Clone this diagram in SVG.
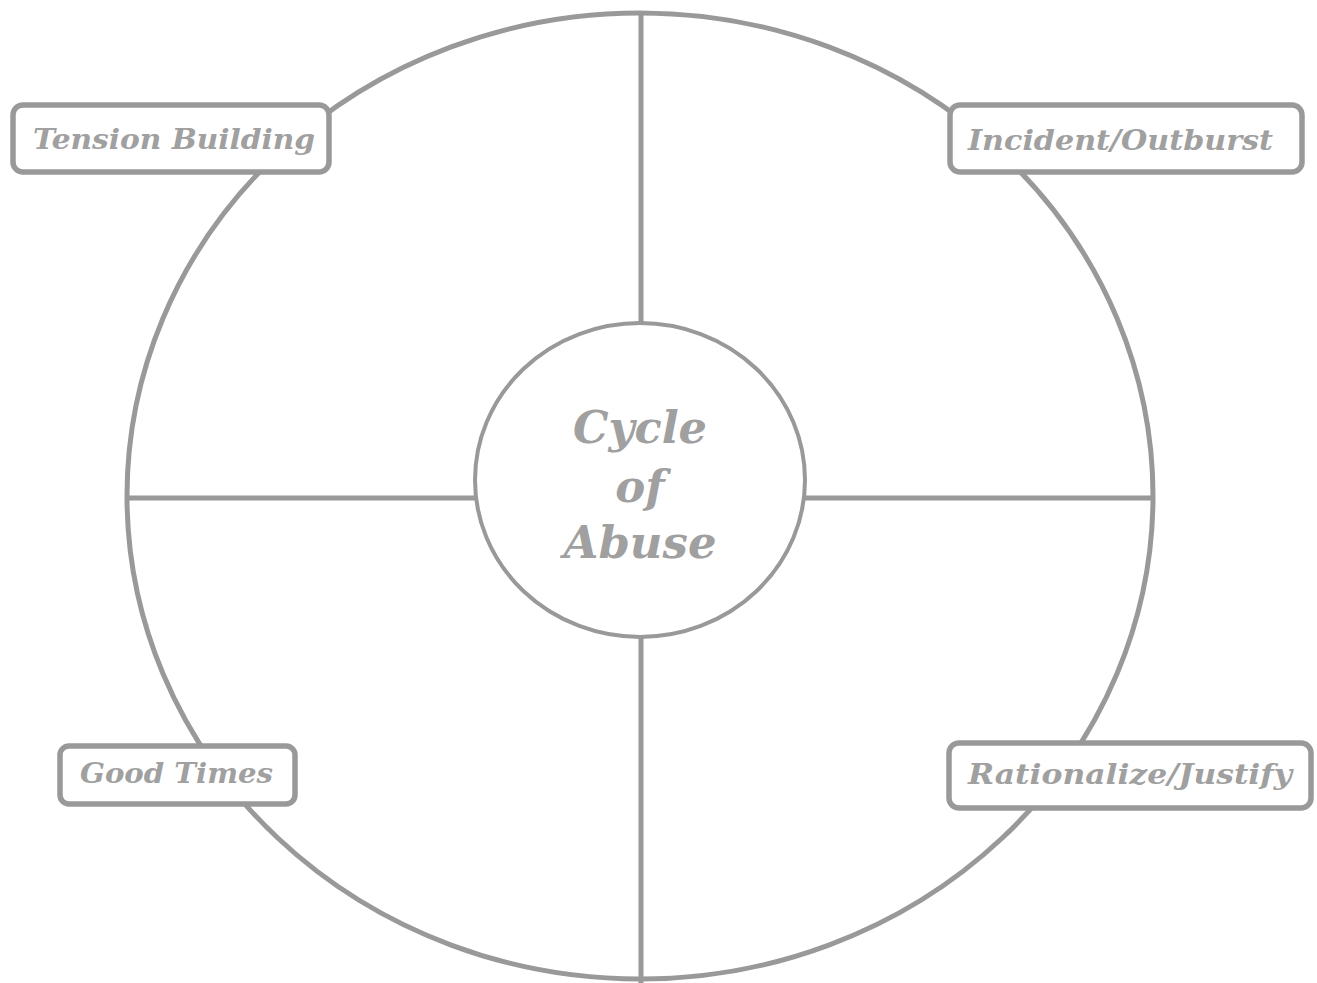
<svg xmlns="http://www.w3.org/2000/svg" width="1317" height="983" viewBox="0 0 1317 983">
<style>
.ln{stroke:#999;stroke-width:5;fill:none}
.box{fill:#fff;stroke:#999;stroke-width:5.5}
.lbl{font-family:"DejaVu Serif","Liberation Serif",serif;font-weight:bold;font-style:italic;font-size:28px;fill:#a0a0a0}
.ctr{font-family:"DejaVu Serif","Liberation Serif",serif;font-weight:bold;font-style:italic;font-size:45px;fill:#a0a0a0;text-anchor:middle}
</style>
<rect width="1317" height="983" fill="#fff"/>
<g id="connectors">
<ellipse class="ln" cx="640" cy="496" rx="513" ry="483"/>
<line class="ln" x1="641" y1="13" x2="641" y2="323"/>
<line class="ln" x1="641" y1="638" x2="641" y2="983"/>
<line class="ln" x1="127" y1="498" x2="475" y2="498"/>
<line class="ln" x1="805" y1="498" x2="1153" y2="498"/>
</g>
<g id="center">
<ellipse cx="640" cy="480" rx="165" ry="157" fill="#fff" stroke="#999" stroke-width="4"/>
<text class="ctr" x="640" y="443" textLength="134" lengthAdjust="spacingAndGlyphs">Cycle</text>
<text class="ctr" x="640" y="502">of</text>
<text class="ctr" x="640" y="558" textLength="153" lengthAdjust="spacingAndGlyphs">Abuse</text>
</g>
<g id="tension">
<rect class="box" x="13" y="105" width="316" height="67" rx="10"/>
<text class="lbl" x="33" y="149" textLength="282" lengthAdjust="spacingAndGlyphs">Tension Building</text>
</g>
<g id="incident">
<rect class="box" x="950" y="105" width="352" height="67" rx="10"/>
<text class="lbl" x="968" y="150" textLength="305" lengthAdjust="spacingAndGlyphs">Incident/Outburst</text>
</g>
<g id="goodtimes">
<rect class="box" x="60" y="746" width="235" height="58" rx="9"/>
<text class="lbl" x="80" y="783" textLength="193" lengthAdjust="spacingAndGlyphs">Good Times</text>
</g>
<g id="rationalize">
<rect class="box" x="949" y="743" width="362" height="65" rx="10"/>
<text class="lbl" x="968" y="784" textLength="324" lengthAdjust="spacingAndGlyphs">Rationalize/Justify</text>
</g>
</svg>
